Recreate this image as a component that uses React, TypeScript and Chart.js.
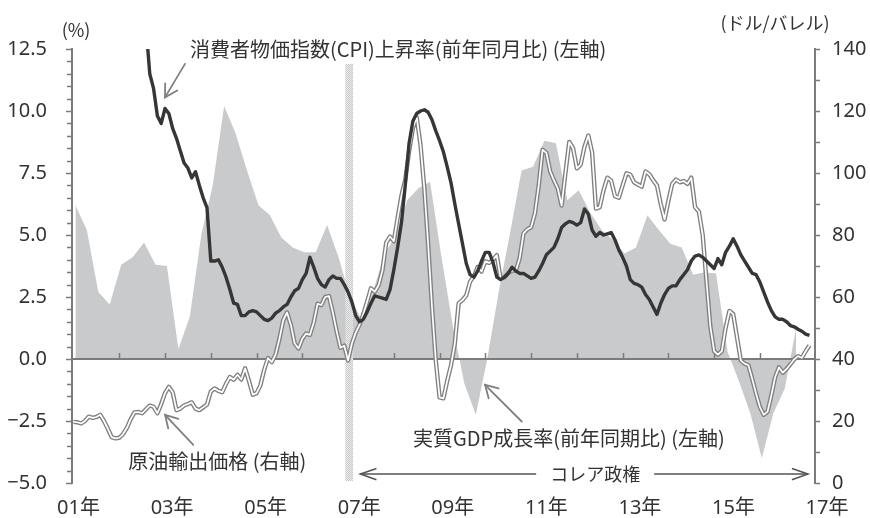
import { useEffect, useRef } from "react";
import { Chart, registerables } from "chart.js";

Chart.register(...registerables);

const FONT = "'Noto Sans CJK JP', 'Noto Sans', sans-serif";
const NUM_FONT = "'Noto Sans', 'Noto Sans CJK JP', sans-serif";
const TEXT = "#333333";
const AXIS = "#7b7b7b";

// Month 0 = 2001年1月, quarter 0 = 2001年1-3月期
const BASE_YEAR = 2001;

// 消費者物価指数(CPI)上昇率 (前年同月比, %), monthly from 2002年6月
const cpiFirstMonth = 17;
const cpiYoY = [
  15.0, 14.2, 13.4, 11.5, 10.9, 9.8, 9.5, 10.1, 9.9, 9.3, 8.9, 8.4, 7.9, 7.7, 7.3, 7.55, 7.0, 6.5, 6.1,
  3.95, 3.95, 4.0, 3.7, 3.3, 2.8, 2.25, 2.2, 1.75, 1.75, 1.9, 1.95,
  1.9, 1.75, 1.6, 1.55, 1.65, 1.85, 1.95, 2.1, 2.2, 2.5, 2.75, 2.85,
  3.2, 3.45, 4.1, 3.7, 3.25, 3.0, 2.9, 3.2, 3.35, 3.25, 3.25, 3.0,
  2.7, 2.3, 1.75, 1.5, 1.6, 1.9, 2.25, 2.55, 2.5, 2.45, 2.4, 2.8,
  3.6, 4.5, 5.5, 7.0, 8.7, 9.6, 9.9, 10.0, 10.05, 9.95, 9.65, 9.2,
  8.8, 8.35, 7.75, 7.1, 6.25, 5.45, 4.65, 3.85, 3.4, 3.3, 3.55, 3.95,
  4.3, 4.3, 3.9, 3.3, 3.2, 3.3, 3.45, 3.7, 3.55, 3.45, 3.45, 3.35,
  3.25, 3.3, 3.55, 3.85, 4.2, 4.35, 4.5, 4.85, 5.3, 5.45, 5.55, 5.5,
  5.4, 5.5, 6.05, 5.85, 5.2, 4.95, 5.1, 5.0, 5.05, 5.1, 4.8, 4.4,
  4.1, 3.75, 3.2, 3.05, 3.0, 2.9, 2.6, 2.4, 2.1, 1.8, 2.25, 2.6,
  2.85, 2.95, 2.95, 3.2, 3.4, 3.6, 3.95, 4.15, 4.2, 4.1, 3.95, 3.8,
  3.65, 4.05, 3.8, 4.3, 4.55, 4.85, 4.55, 4.2, 3.95, 3.7, 3.45, 3.4,
  3.1, 2.7, 2.3, 1.95, 1.7, 1.6, 1.6, 1.5, 1.35, 1.3, 1.2, 1.12,
  1.0, 0.95,
];

// 原油輸出価格 (ドル/バレル), monthly from 2001年1月
const oilFirstMonth = 0;
const oilPrice = [
  19.7, 19.6, 19.2, 20.0, 21.4, 21.0, 21.3, 22.0, 20.0, 17.5, 14.8, 14.4,
  14.6, 15.8, 17.8, 20.6, 22.8, 22.9, 22.5, 23.8, 25.0, 24.6, 22.5, 25.5,
  29.0, 31.0, 29.3, 23.5, 24.0, 25.0, 25.5, 26.0, 24.0, 23.5, 24.4, 25.3,
  29.5, 30.5, 29.7, 29.3, 32.0, 34.2, 33.3, 34.9, 33.4, 37.0, 33.0, 28.5,
  29.0, 31.5, 36.5, 40.3, 39.0, 41.5, 46.5, 52.5, 55.0, 51.0, 45.0, 43.4,
  46.5, 48.2, 47.8, 51.8, 57.8, 57.4, 60.0, 60.3, 55.0, 49.0, 43.6, 44.3,
  39.5, 45.0, 48.5, 51.0, 54.5, 58.5, 62.8, 61.7, 63.8, 68.5, 77.5, 79.5,
  78.0, 85.5, 92.7, 97.8, 107.0, 114.5, 118.0, 109.0, 95.0, 77.0, 57.0, 39.5,
  27.6, 27.3, 33.0, 38.0, 45.0, 58.0, 59.0, 60.5, 65.0, 66.7, 69.7, 68.2,
  71.5, 71.0, 72.0, 73.5, 66.0, 66.3, 67.8, 68.5, 68.5, 72.5, 80.5, 81.8,
  82.5, 87.0, 96.0, 107.5, 106.5, 100.5, 97.6, 95.0, 89.5, 100.0, 110.0, 108.0,
  101.5, 102.7, 108.5, 112.1, 106.6, 88.5, 89.0, 94.5, 98.5, 97.5, 92.5, 92.0,
  96.0, 99.9, 99.5, 97.0, 96.3, 95.6, 100.5, 99.6, 97.7, 96.0, 90.0, 85.0,
  91.0, 96.5, 97.9, 97.0, 97.4, 96.5, 98.5, 89.0, 87.5, 80.0, 65.0, 50.5,
  42.5, 41.4, 42.5, 50.0, 55.5, 54.5, 47.0, 39.5, 38.5, 38.0, 33.5, 28.8,
  24.5, 22.0, 23.0, 28.3, 34.2, 37.3, 35.6, 36.8, 38.3, 39.9, 40.9, 40.4,
  42.5, 44.4,
];

// 実質GDP成長率 (前年同期比, %), quarterly from 2001年1-3月期
const gdpFirstQuarter = 0;
const gdpGrowth = [
  6.2, 5.2, 2.7, 2.2,
  3.8, 4.1, 4.7, 3.8,
  3.75, 0.4, 1.7, 5.0,
  7.0, 10.2, 9.1, 7.6,
  6.2, 5.8, 4.9, 4.5,
  4.3, 4.3, 5.4, 4.1,
  2.5, 1.6, 2.7, 4.2,
  5.0, 6.4, 6.9, 7.15,
  4.1, 1.3, -1.0, -2.25,
  0.0, 2.7, 5.1, 7.6,
  7.75, 8.8, 8.7, 6.4,
  6.8, 5.9, 5.2, 4.8,
  4.25, 4.5, 5.8, 5.2,
  4.65, 4.5, 3.4, 3.5,
  3.45, 0.3, -0.9, -2.2,
  -4.0, -2.2, -1.2, 1.25,
];

// Bottom year labels
const yearLabels = [2001, 2003, 2005, 2007, 2009, 2011, 2013, 2015, 2017];
// Year tick marks on the zero line
const yearTicks = [2002, 2003, 2004, 2005, 2006, 2007, 2008, 2009, 2010, 2011, 2012, 2013, 2014, 2015, 2016];

// Axis ranges
const leftMin = -5;
const leftMax = 12.5;
const leftMinorStep = 0.5;
const leftLabelStep = 2.5;
const rightMin = 0;
const rightMax = 140;
const rightMinorStep = 10;
const rightLabelStep = 20;
const xMin = 2000.967;
const xMax = 2017.204;

// コレア政権 period marker
const correaStart = 2006.94;
const correaEnd = 2007.11;
const correaArrowFrom = 2007.27;
const correaArrowTo = 2017.05;
const correaArrowLevel = -4.64;
const correaLabelAt = 2012.4;

const cpiPoints = cpiYoY.map((v, i) => ({ x: BASE_YEAR + (cpiFirstMonth + i) / 12, y: v }));
const oilPoints = oilPrice.map((v, i) => ({ x: BASE_YEAR + (oilFirstMonth + i) / 12, y: v }));
const gdpPoints = gdpGrowth.map((v, k) => ({ x: BASE_YEAR + (gdpFirstQuarter + k) / 4 + 1 / 24, y: v }));

const GDP_INDEX = 3;
const TICK_FONT_SIZE = 20;

function fmtLeft(v: number): string {
  const s = Math.abs(v).toFixed(1);
  return v < 0 ? "\u2212" + s : s;
}

function isMultiple(v: number, step: number): boolean {
  const r = Math.abs(v / step - Math.round(v / step));
  return r < 1e-6;
}

function drawArrow(
  ctx: CanvasRenderingContext2D,
  x0: number, y0: number, x1: number, y1: number,
  wing: number, spread: number
) {
  ctx.beginPath();
  ctx.moveTo(x0, y0);
  ctx.lineTo(x1, y1);
  ctx.stroke();
  const a = Math.atan2(y0 - y1, x0 - x1);
  ctx.beginPath();
  ctx.moveTo(x1 + wing * Math.cos(a + spread), y1 + wing * Math.sin(a + spread));
  ctx.lineTo(x1, y1);
  ctx.lineTo(x1 + wing * Math.cos(a - spread), y1 + wing * Math.sin(a - spread));
  ctx.stroke();
}

function makeDots(ctx: CanvasRenderingContext2D): CanvasPattern | string {
  const c = document.createElement("canvas");
  c.width = 2;
  c.height = 2;
  const g = c.getContext("2d");
  if (!g) return "#dcdcdc";
  g.fillStyle = "#f0f0f0";
  g.fillRect(0, 0, 2, 2);
  g.fillStyle = "#c6c6c6";
  g.fillRect(0, 0, 1, 1);
  g.fillRect(1, 1, 1, 1);
  return ctx.createPattern(c, "repeat") || "#dcdcdc";
}

const decorations = {
  id: "decorations",
  afterDatasetDraw(chart: any, args: any) {
    if (args.index !== GDP_INDEX) return;
    const { ctx, chartArea } = chart;
    const x = chart.scales.x;
    const y = chart.scales.y;
    const y0 = y.getPixelForValue(0);
    ctx.save();
    // zero line with yearly ticks
    ctx.strokeStyle = AXIS;
    ctx.lineWidth = 2;
    ctx.beginPath();
    ctx.moveTo(chartArea.left, y0);
    ctx.lineTo(chartArea.right, y0);
    ctx.stroke();
    ctx.lineWidth = 1.5;
    for (const yr of yearTicks) {
      const px = Math.round(x.getPixelForValue(yr)) + 0.5;
      ctx.beginPath();
      ctx.moveTo(px, y0);
      ctx.lineTo(px, y0 - 6);
      ctx.stroke();
    }
    // start of the Correa administration
    const bx0 = x.getPixelForValue(correaStart);
    const bx1 = x.getPixelForValue(correaEnd);
    const by0 = y.getPixelForValue(11.9);
    const by1 = y.getPixelForValue(-4.92);
    ctx.fillStyle = makeDots(ctx);
    ctx.fillRect(bx0, by0, bx1 - bx0, by1 - by0);
    ctx.restore();
  },
  afterDraw(chart: any) {
    const { ctx, chartArea } = chart;
    const x = chart.scales.x;
    const y = chart.scales.y;
    const y1 = chart.scales.y1;
    const px = (t: number) => x.getPixelForValue(t);
    const py = (v: number) => y.getPixelForValue(v);
    ctx.save();

    // axis tick marks
    ctx.strokeStyle = AXIS;
    ctx.lineWidth = 1.5;
    for (let v = leftMin; v <= leftMax + 1e-9; v += leftMinorStep) {
      const ty = Math.round(y.getPixelForValue(v)) + 0.5;
      const len = isMultiple(v, leftLabelStep) ? 6 : 5;
      ctx.beginPath();
      ctx.moveTo(chartArea.left, ty);
      ctx.lineTo(chartArea.left - len, ty);
      ctx.stroke();
    }
    for (let v = rightMin; v <= rightMax + 1e-9; v += rightMinorStep) {
      const ty = Math.round(y1.getPixelForValue(v)) + 0.5;
      ctx.beginPath();
      ctx.moveTo(chartArea.right, ty);
      ctx.lineTo(chartArea.right + 5, ty);
      ctx.stroke();
    }

    // right axis labels (ドル/バレル)
    ctx.fillStyle = TEXT;
    ctx.font = `${TICK_FONT_SIZE}px ${NUM_FONT}`;
    ctx.textAlign = "left";
    ctx.textBaseline = "middle";
    for (let v = rightMin; v <= rightMax + 1e-9; v += rightLabelStep) {
      ctx.fillText(String(v), chartArea.right + 17, y1.getPixelForValue(v));
    }

    // year labels
    ctx.font = `20px ${NUM_FONT}`;
    ctx.textAlign = "center";
    for (const yr of yearLabels) {
      const pos = yr + 0.11 + 0.0223 * (yr - BASE_YEAR);
      ctx.fillText(String(yr).slice(2) + "年", px(pos), chartArea.bottom + 25);
    }

    // axis units
    ctx.font = `18px ${FONT}`;
    ctx.fillText("(%)", chartArea.left + 4, chartArea.top - 19);
    ctx.fillText("(ドル/バレル)", chartArea.right - 40, chartArea.top - 26);

    // series annotations
    ctx.font = `20px ${FONT}`;
    ctx.textAlign = "left";
    ctx.fillText("消費者物価指数(CPI)上昇率(前年同月比) (左軸)", px(2003.546), py(12.47));
    ctx.fillText("原油輸出価格 (右軸)", px(2002.198), py(-4.11));
    ctx.fillText("実質GDP成長率(前年同期比) (左軸)", px(2008.419), py(-3.19));

    ctx.strokeStyle = "#808080";
    ctx.lineWidth = 1.8;
    ctx.lineCap = "round";
    drawArrow(ctx, px(2003.437), py(11.9), px(2002.999), py(10.55), 14, Math.PI / 6);
    drawArrow(ctx, px(2003.618), py(-3.46), px(2003.0), py(-2.25), 14, Math.PI / 6);
    drawArrow(ctx, px(2010.795), py(-2.52), px(2009.993), py(-1.04), 14, Math.PI / 6);

    // コレア政権 arrow
    const ay = py(correaArrowLevel);
    const lx = px(correaArrowFrom);
    const rx = px(correaArrowTo);
    const cx = px(correaLabelAt);
    ctx.font = `18px ${FONT}`;
    ctx.textAlign = "center";
    const w = ctx.measureText("コレア政権").width;
    ctx.fillText("コレア政権", cx, ay);
    ctx.strokeStyle = "#555555";
    ctx.lineWidth = 1.6;
    ctx.lineCap = "butt";
    drawArrow(ctx, cx - w / 2 - 14, ay, lx, ay, 17, 0.34);
    drawArrow(ctx, cx + w / 2 + 14, ay, rx, ay, 17, 0.34);

    ctx.restore();
  },
};

export default function App() {
  const canvasRef = useRef<HTMLCanvasElement | null>(null);

  useEffect(() => {
    const canvas = canvasRef.current;
    if (!canvas) return;
    const tickFont = { family: NUM_FONT, size: TICK_FONT_SIZE };
    const chart = new Chart(canvas, {
      type: "line",
      data: {
        datasets: [
          {
            label: "消費者物価指数(CPI)上昇率",
            data: cpiPoints,
            yAxisID: "y",
            borderColor: "#363636",
            borderWidth: 3.4,
            borderJoinStyle: "round",
            pointRadius: 0,
            fill: false,
            order: 0,
          },
          {
            label: "原油輸出価格",
            data: oilPoints,
            yAxisID: "y1",
            borderColor: "#ffffff",
            borderWidth: 1.7,
            borderJoinStyle: "round",
            pointRadius: 0,
            fill: false,
            order: 1,
          },
          {
            label: "原油輸出価格 outline",
            data: oilPoints,
            yAxisID: "y1",
            borderColor: "#808080",
            borderWidth: 4.4,
            borderJoinStyle: "round",
            pointRadius: 0,
            fill: false,
            order: 2,
          },
          {
            label: "実質GDP成長率",
            data: gdpPoints,
            yAxisID: "y",
            borderWidth: 0,
            borderColor: "rgba(0,0,0,0)",
            backgroundColor: "#c9cacc",
            pointRadius: 0,
            fill: "origin",
            order: 3,
          },
        ],
      },
      options: {
        animation: false,
        responsive: false,
        maintainAspectRatio: false,
        events: [],
        layout: { padding: { top: 49, bottom: 35, left: 0, right: 0 } },
        plugins: { legend: { display: false }, tooltip: { enabled: false } },
        scales: {
          x: { type: "linear", min: xMin, max: xMax, display: false },
          y: {
            position: "left",
            min: leftMin,
            max: leftMax,
            afterFit: (s: any) => { s.width = 72; },
            ticks: {
              stepSize: leftLabelStep,
              autoSkip: false,
              padding: 17,
              color: TEXT,
              font: tickFont,
              callback: (v: any) => fmtLeft(Number(v)),
            },
            grid: { display: false, drawOnChartArea: false },
            border: { display: true, color: AXIS, width: 2 },
          },
          y1: {
            position: "right",
            min: rightMin,
            max: rightMax,
            afterFit: (s: any) => { s.width = 55; },
            ticks: { display: false, stepSize: rightLabelStep },
            grid: { display: false, drawOnChartArea: false },
            border: { display: true, color: AXIS, width: 2 },
          },
        },
      } as any,
      plugins: [decorations],
    });
    return () => chart.destroy();
  }, []);

  return (
    <div style={{ position: "absolute", left: 0, top: 0, width: 870, height: 518, background: "#ffffff" }}>
      <canvas ref={canvasRef} width={870} height={518} style={{ display: "block" }} />
    </div>
  );
}
